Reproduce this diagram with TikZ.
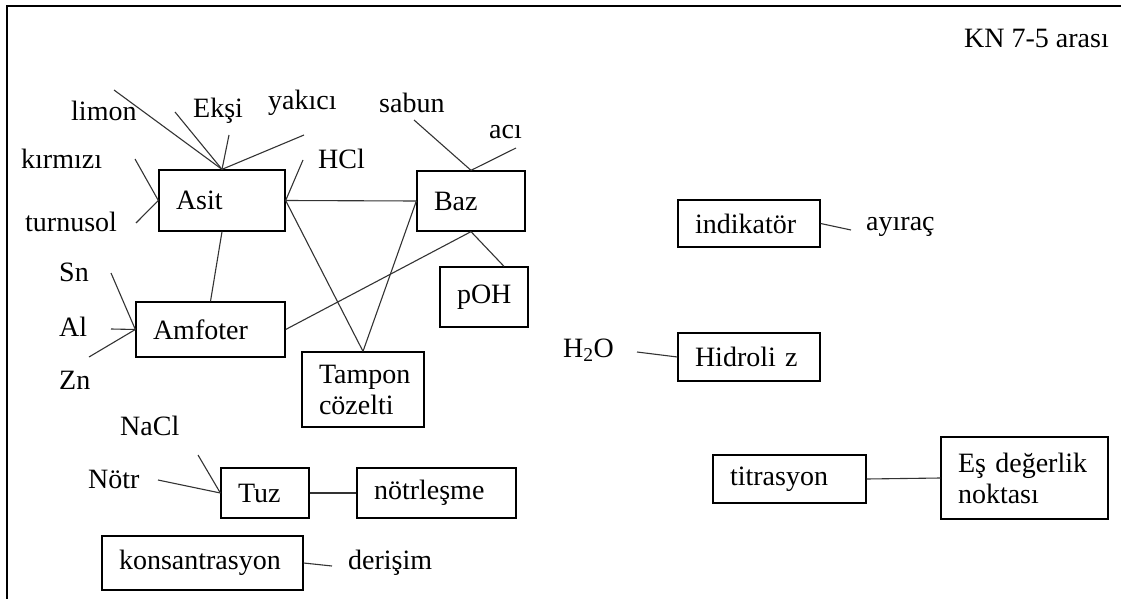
\documentclass[tikz,border=0pt]{standalone}
\usepackage{fontspec}
\setmainfont{Liberation Serif}
\begin{document}
\begin{tikzpicture}[x=1pt,y=-1pt,
  every node/.style={font=\fontsize{28}{31}\selectfont},
  box/.style={draw=black, line width=1.3pt, inner xsep=17pt, inner ysep=0pt, align=left},
  lbl/.style={anchor=west, inner sep=0pt},
  link/.style={draw=black!80, line width=1.1pt}]
\useasboundingbox (0,0) rectangle (1121,599);
% page frame
\draw[line width=1.5pt] (7,599) -- (7,6) -- (1121,6);

% boxes
\node[box, text width=92pt, minimum height=61pt] (asit) at (222,200.5) {Asit};
\node[box, text width=74pt, minimum height=60pt] (baz) at (471,201) {Baz};
\node[box, text width=115pt, minimum height=55pt] (amf) at (210.5,329.5) {Amfoter};
\node[box, text width=54pt, minimum height=60pt] (poh) at (484,297) {pOH};
\node[box, text width=88pt, minimum height=75pt, inner xsep=17pt] (tampon) at (363,389.5) {Tampon\\cözelti};
\node[box, text width=54pt, minimum height=50pt] (tuz) at (265,493) {Tuz};
\node[box, text width=125pt, minimum height=50pt] (notr) at (436.5,493) {nötrleşme};
\node[box, text width=167pt, minimum height=54pt] (kons) at (202.5,563) {konsantrasyon};
\node[box, text width=108pt, minimum height=47pt] (ind) at (749,223.5) {indikatör};
\node[box, text width=108pt, minimum height=48pt] (hid) at (749,357) {Hidroli z};
\node[box, text width=119pt, minimum height=48pt] (tit) at (789.5,479) {titrasyon};
\node[box, text width=133pt, minimum height=82pt] (es) at (1024.5,478) {Eş değerlik\\noktası};

% labels
\node[lbl] (kn) at (964,38) {KN 7-5 arası};
\node[lbl] (limon) at (71,111) {limon};
\node[lbl] (eksi) at (193,111) {Ekşi};
\node[lbl] (yakici) at (268,103) {yakıcı};
\node[lbl] (sabun) at (379,103) {sabun};
\node[lbl] (aci) at (489,132) {acı};
\node[lbl] (kirmizi) at (21,159) {kırmızı};
\node[lbl] (hcl) at (318,159) {HCl};
\node[lbl] (turnusol) at (25,222) {turnusol};
\node[lbl] (sn) at (59,272) {Sn};
\node[lbl] (al) at (59,327) {Al};
\node[lbl] (zn) at (59,380) {Zn};
\node[lbl] (nacl) at (120,426) {NaCl};
\node[lbl] (notrl) at (88,479) {Nötr};
\node[lbl] (derisim) at (348,563) {derişim};
\node[lbl] (ayirac) at (866,227) {ayıraç};
\node[lbl] (h2o) at (563,350) {H\textsubscript{2}O};

% free ends of the short connectors
\coordinate (cLimon) at (114,90);
\coordinate (cEksiA) at (175,112);
\coordinate (cEksiB) at (229,135);
\coordinate (cYakici) at (304,135);
\coordinate (cKirmizi) at (135,159);
\coordinate (cTurnusol) at (136,223);
\coordinate (cHCl) at (303,160);
\coordinate (cSabun) at (414,120);
\coordinate (cAci) at (516,148);
\coordinate (cSn) at (111,273);
\coordinate (cAl) at (111,329);
\coordinate (cZn) at (89,357);
\coordinate (cNaCl) at (198,455);
\coordinate (cNotr) at (158,480);
\coordinate (cDerisim) at (332,566);
\coordinate (cAyirac) at (851,230);
\coordinate (cH2O) at (637,352);
\coordinate (pohTop) at ([xshift=20pt]poh.north);

% connectors
\path[link] (cLimon) -- (asit.north);
\path[link] (cEksiA) -- (asit.north);
\path[link] (cEksiB) -- (asit.north);
\path[link] (cYakici) -- (asit.north);
\path[link] (cKirmizi) -- (asit.west);
\path[link] (cTurnusol) -- (asit.west);
\path[link] (cHCl) -- (asit.east);
\path[link] (asit.east) -- (baz.west);
\path[link] (asit.east) -- (tampon.north);
\path[link] (baz.west) -- (tampon.north);
\path[link] (asit.south) -- (amf.north);
\path[link] (amf.east) -- (baz.south);
\path[link] (baz.south) -- (pohTop);
\path[link] (cSabun) -- (baz.north);
\path[link] (cAci) -- (baz.north);
\path[link] (cSn) -- (amf.west);
\path[link] (cAl) -- (amf.west);
\path[link] (cZn) -- (amf.west);
\path[link] (cNaCl) -- (tuz.west);
\path[link] (cNotr) -- (tuz.west);
\path[link] (tuz.east) -- (notr.west);
\path[link] (kons.east) -- (cDerisim);
\path[link] (ind.east) -- (cAyirac);
\path[link] (cH2O) -- (hid.west);
\path[link] (tit.east) -- (es.west);
\end{tikzpicture}
\end{document}
